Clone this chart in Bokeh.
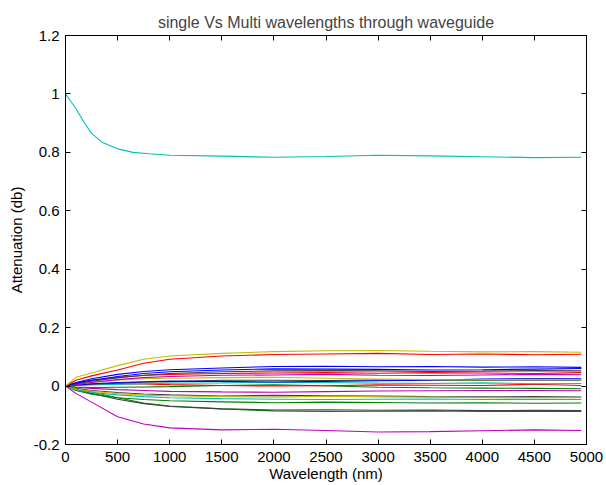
from bokeh.plotting import figure
from bokeh.models import LinearAxis, FixedTicker, CustomJSTickFormatter, Range1d
from bokeh.embed import file_html
from bokeh.resources import INLINE

# ---- data ----
wavelength = [0, 100, 250, 500, 750, 1000, 1500, 2000, 2500, 3000, 3500, 4000, 4500, 4950]

single_x = [0, 50, 100, 175, 250, 350, 500, 650, 800, 1000, 1500, 2000, 2500, 3000, 3500, 4000, 4500, 4950]
single_cyan = [1.0, 0.975, 0.95, 0.905, 0.865, 0.835, 0.812, 0.8, 0.795, 0.79, 0.787, 0.783, 0.786, 0.79, 0.788, 0.785, 0.782, 0.783]

yellow_1 = [0, 0.03, 0.045, 0.07, 0.092, 0.103, 0.112, 0.118, 0.121, 0.122, 0.119, 0.117, 0.118, 0.116]
red_1 = [0, 0.02, 0.035, 0.055, 0.078, 0.092, 0.103, 0.108, 0.11, 0.112, 0.108, 0.11, 0.107, 0.109]
blue_1 = [0, 0.012, 0.025, 0.04, 0.05, 0.056, 0.062, 0.067, 0.068, 0.066, 0.067, 0.065, 0.066, 0.064]
blue_2 = [0, 0.01, 0.02, 0.033, 0.043, 0.049, 0.055, 0.059, 0.058, 0.057, 0.055, 0.056, 0.058, 0.060]
black_1 = [0, 0.008, 0.017, 0.028, 0.037, 0.043, 0.049, 0.052, 0.053, 0.052, 0.050, 0.051, 0.053, 0.052]
red_2 = [0, 0.01, 0.02, 0.03, 0.036, 0.04, 0.043, 0.045, 0.046, 0.044, 0.046, 0.045, 0.043, 0.046]
magenta_1 = [0, 0.005, 0.012, 0.022, 0.029, 0.033, 0.037, 0.038, 0.040, 0.037, 0.036, 0.038, 0.040, 0.039]
yellow_2 = [0, 0.006, 0.013, 0.02, 0.025, 0.027, 0.029, 0.030, 0.027, 0.024, 0.022, 0.021, 0.023, 0.022]
blue_3 = [0, 0.004, 0.008, 0.012, 0.015, 0.017, 0.016, 0.014, 0.016, 0.018, 0.02, 0.024, 0.026, 0.025]
black_2 = [0, 0.003, 0.006, 0.01, 0.013, 0.015, 0.02, 0.02, 0.019, 0.021, 0.02, 0.019, 0.021, 0.020]
cyan_1 = [0, 0.002, 0.004, 0.006, 0.008, 0.01, 0.011, 0.013, 0.012, 0.010, 0.009, 0.011, 0.008, 0.009]
red_3 = [0, 0.004, 0.006, 0.008, 0.007, 0.005, 0.002, 0.0, 0.001, 0.004, 0.003, 0.002, 0.006, 0.002]
green_1 = [0, -0.003, -0.005, -0.004, -0.003, -0.002, 0.002, 0.004, 0.001, -0.004, -0.006, -0.007, -0.008, -0.009]
magenta_2 = [0, -0.004, -0.008, -0.012, -0.015, -0.018, -0.020, -0.021, -0.019, -0.017, -0.016, -0.015, -0.015, -0.016]
yellow_3 = [0, -0.01, -0.018, -0.026, -0.031, -0.033, -0.036, -0.038, -0.035, -0.037, -0.038, -0.040, -0.039, -0.040]
black_3 = [0, -0.008, -0.015, -0.022, -0.027, -0.03, -0.034, -0.032, -0.033, -0.034, -0.036, -0.037, -0.036, -0.038]
cyan_2 = [0, -0.012, -0.022, -0.03, -0.036, -0.04, -0.043, -0.045, -0.046, -0.045, -0.044, -0.046, -0.045, -0.046]
green_2 = [0, -0.015, -0.028, -0.04, -0.046, -0.05, -0.054, -0.057, -0.055, -0.056, -0.058, -0.057, -0.059, -0.058]
black_4 = [0, -0.012, -0.025, -0.045, -0.06, -0.07, -0.078, -0.082, -0.081, -0.083, -0.082, -0.084, -0.083, -0.084]
green_3 = [0, -0.01, -0.02, -0.04, -0.058, -0.068, -0.078, -0.085, -0.087, -0.086, -0.085, -0.087, -0.086, -0.087]
magenta_3 = [0, -0.025, -0.055, -0.105, -0.130, -0.143, -0.150, -0.148, -0.152, -0.157, -0.156, -0.153, -0.150, -0.152]

x_ticks = [0, 500, 1000, 1500, 2000, 2500, 3000, 3500, 4000, 4500, 5000]
y_ticks = [-0.2, 0, 0.2, 0.4, 0.6, 0.8, 1.0, 1.2]

# MATLAB-like colours
C = {"b": "#0000ff", "g": "#008000", "r": "#ff0000", "c": "#00bfbf",
     "m": "#bf00bf", "y": "#bfbf00", "k": "#404040"}

series = [
    (green_3, "g"), (black_4, "k"), (green_2, "g"), (cyan_2, "c"), (black_3, "k"),
    (yellow_3, "y"), (magenta_2, "m"), (green_1, "g"), (red_3, "r"), (cyan_1, "c"),
    (black_2, "k"), (blue_3, "b"), (yellow_2, "y"), (magenta_1, "m"), (red_2, "r"),
    (black_1, "k"), (blue_2, "b"), (blue_1, "b"), (red_1, "r"), (yellow_1, "y"),
    (magenta_3, "m"),
]

FONT = "Liberation Sans"

p = figure(width=606, height=485, output_backend="svg", toolbar_location=None,
           x_range=Range1d(0, 5000), y_range=Range1d(-0.2, 1.2),
           min_border_left=65, min_border_right=20, min_border_top=35, min_border_bottom=41,
           title="single Vs Multi wavelengths through waveguide")

p.title.text_font = FONT
p.title.text_font_size = "16px"
p.title.text_font_style = "normal"
p.title.align = "center"
p.title.standoff = 10

for ys, c in series:
    p.line(wavelength, ys, line_color=C[c], line_width=1.1)
p.line(single_x, single_cyan, line_color=C["c"], line_width=1.1)

p.xgrid.visible = False
p.ygrid.visible = False
p.outline_line_color = "black"
p.outline_line_width = 1
p.background_fill_color = "white"
p.border_fill_color = "white"

fmt_y = CustomJSTickFormatter(code="var s = tick.toFixed(1); if (s.endsWith('.0')) s = s.slice(0, -2); if (s == '-0') s = '0'; return s;")

for ax in p.xaxis:
    ax.ticker = FixedTicker(ticks=x_ticks)
for ax in p.yaxis:
    ax.ticker = FixedTicker(ticks=y_ticks)
    ax.formatter = fmt_y

p.xaxis.axis_label = "Wavelength (nm)"
p.yaxis.axis_label = "Attenuation (db)"

for ax in list(p.xaxis) + list(p.yaxis):
    ax.major_tick_in = 5
    ax.major_tick_out = 0
    ax.minor_tick_line_color = None
    ax.axis_line_color = "black"
    ax.major_tick_line_color = "black"
    ax.major_label_text_font = FONT
    ax.major_label_text_font_size = "15px"
    ax.major_label_text_color = "black"
    ax.axis_label_text_font = FONT
    ax.axis_label_text_font_size = "15px"
    ax.axis_label_text_font_style = "normal"
    ax.axis_label_text_color = "black"

p.xaxis.major_label_standoff = 7
p.xaxis.axis_label_standoff = 0
p.yaxis.major_label_standoff = 6
p.yaxis.axis_label_standoff = 6

empty = CustomJSTickFormatter(code="return '';")
top = LinearAxis(ticker=FixedTicker(ticks=x_ticks), formatter=empty,
                 major_tick_in=5, major_tick_out=0, minor_tick_line_color=None,
                 major_label_standoff=0, axis_line_color="black")
right = LinearAxis(ticker=FixedTicker(ticks=y_ticks), formatter=empty,
                   major_tick_in=5, major_tick_out=0, minor_tick_line_color=None,
                   major_label_standoff=0, axis_line_color="black")
p.add_layout(top, "above")
p.add_layout(right, "right")

open("out.html", "w").write(file_html(p, INLINE))
